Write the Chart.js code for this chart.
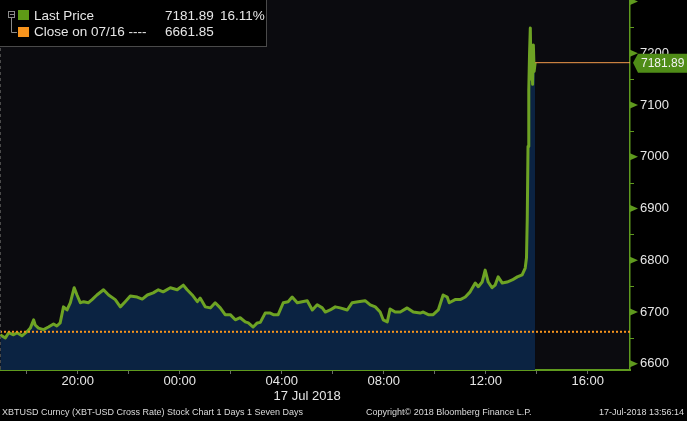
<!DOCTYPE html>
<html>
<head>
<meta charset="utf-8">
<script src="https://cdn.jsdelivr.net/npm/chart.js@4.4.1/dist/chart.umd.min.js"></script>
<style>
  html, body { margin: 0; padding: 0; background: #000; }
  canvas { display: block; }
</style>
</head>
<body>
<canvas id="priceChart" width="687" height="421"></canvas>
<script>
// horas relativas a 00:00 de 17/07/2018 (negativas = 16/07)
const hours = [
  -7.04, -6.84, -6.71, -6.52, -6.38, -6.19, -5.99, -5.86, -5.73, -5.67,
  -5.54, -5.34, -5.15, -4.95, -4.82, -4.69, -4.56, -4.42, -4.29, -4.14,
  -4.03, -3.90, -3.77, -3.58, -3.44, -3.25, -2.99, -2.79, -2.53, -2.33,
  -2.14, -1.94, -1.67, -1.47, -1.27, -1.04, -0.84, -0.65, -0.37, -0.10,
  0.14, 0.29, 0.49, 0.69, 0.80, 1.00, 1.20, 1.39, 1.59, 1.78,
  1.98, 2.18, 2.37, 2.57, 2.69, 2.88, 3.04, 3.16, 3.35, 3.55,
  3.67, 3.86, 4.06, 4.25, 4.41, 4.61, 4.80, 5.00, 5.20, 5.39,
  5.59, 5.71, 5.90, 6.10, 6.29, 6.57, 6.76, 7.00, 7.27, 7.47,
  7.67, 7.86, 7.98, 8.14, 8.25, 8.45, 8.65, 8.92, 9.16, 9.43,
  9.55, 9.75, 9.94, 10.14, 10.33, 10.49, 10.57, 10.80, 11.00, 11.20,
  11.39, 11.59, 11.71, 11.86, 11.98, 12.10, 12.25, 12.37, 12.49, 12.65,
  12.84, 13.04, 13.24, 13.43, 13.55, 13.60, 13.63, 13.66, 13.69, 13.72,
  13.75, 13.78, 13.81, 13.84, 13.87, 13.90, 13.94
];
const prices = [
  6656, 6650, 6660, 6656, 6660, 6654, 6662, 6669, 6685, 6675,
  6669, 6666, 6671, 6677, 6673, 6679, 6710, 6704, 6718, 6747,
  6733, 6718, 6720, 6718, 6724, 6733, 6743, 6733, 6724, 6710,
  6720, 6731, 6729, 6725, 6733, 6737, 6743, 6739, 6747, 6743,
  6752, 6743, 6733, 6720, 6727, 6710, 6708, 6718, 6708, 6695,
  6695, 6685, 6689, 6681, 6679, 6671, 6679, 6680, 6698, 6698,
  6695, 6695, 6718, 6720, 6729, 6718, 6720, 6722, 6704, 6714,
  6708, 6700, 6704, 6710, 6708, 6704, 6718, 6720, 6722, 6714,
  6710, 6700, 6685, 6681, 6706, 6700, 6700, 6708, 6700, 6698,
  6700, 6695, 6695, 6704, 6733, 6729, 6718, 6724, 6724, 6729,
  6739, 6756, 6749, 6758, 6781, 6758, 6747, 6752, 6768, 6756,
  6758, 6762, 6768, 6772, 6785, 6805, 6880, 7020, 7130, 7200,
  7249, 7150, 7185, 7140, 7216, 7165, 7181.89
];
const lastPrice = 7181.89;
const prevClose = 6661.85;
const pctChange = '16.11%';
const closeLabel = 'Close on 07/16 ----';
const dateLabel = '17 Jul 2018';
const dateLabelHour = 5;
const xTicks = [-6, -4, -2, 0, 2, 4, 6, 8, 10, 12, 14, 16];
const yTicks = [6600, 6650, 6700, 6750, 6800, 6850, 6900, 6950, 7000, 7050, 7100, 7150, 7200, 7250, 7300];
const footerLeft = 'XBTUSD Curncy (XBT-USD Cross Rate) Stock Chart 1 Days 1 Seven Days';
const footerMid = 'Copyright\u00a9 2018 Bloomberg Finance L.P.';
const footerRight = '17-Jul-2018 13:56:14';

const xMin = -7.05, xMax = 17.66;
const GREEN = '#6ea324';
const AXIS_GREEN = '#5f9a1e';
const ORANGE = '#f7941d';
const TEXT = '#e6e6e6';
const FONT = '"Liberation Sans", Arial, sans-serif';

document.addEventListener('DOMContentLoaded', () => {
  const ctx = document.getElementById('priceChart').getContext('2d');
  const lastHour = hours[hours.length - 1];

  // fundo, legenda, triângulos do eixo, etiqueta do último preço e rodapé
  const bloombergPlugin = {
    id: 'bloomberg',
    beforeDraw(chart) {
      const c = chart.ctx, a = chart.chartArea;
      c.save();
      c.fillStyle = '#000';
      c.fillRect(0, 0, chart.width, chart.height);
      c.fillStyle = '#0b0b0f';
      c.fillRect(a.left, a.top, a.right - a.left, a.bottom - a.top);
      c.restore();
    },
    afterDraw(chart) {
      const c = chart.ctx, a = chart.chartArea;
      const xs = chart.scales.x, ys = chart.scales.y;
      c.save();

      // borda esquerda tracejada
      c.strokeStyle = '#4a4a4a';
      c.setLineDash([3, 3]);
      c.beginPath();
      c.moveTo(a.left + 0.5, 48);
      c.lineTo(a.left + 0.5, a.bottom);
      c.stroke();
      c.setLineDash([]);

      // marcas do eixo y
      c.fillStyle = AXIS_GREEN;
      c.strokeStyle = AXIS_GREEN;
      yTicks.forEach(v => {
        const y = ys.getPixelForValue(v);
        if (v % 100 === 0) {
          c.beginPath();
          c.moveTo(a.right, y - 3.5);
          c.lineTo(a.right + 8, y);
          c.lineTo(a.right, y + 3.5);
          c.closePath();
          c.fill();
        } else {
          c.beginPath();
          c.moveTo(a.right, Math.round(y) + 0.5);
          c.lineTo(a.right + 4, Math.round(y) + 0.5);
          c.stroke();
        }
      });

      // etiqueta do último preço
      const ly = ys.getPixelForValue(lastPrice);
      c.fillStyle = '#4f8c17';
      c.beginPath();
      c.moveTo(a.right + 3, ly);
      c.lineTo(a.right + 8, ly - 9);
      c.lineTo(chart.width, ly - 9);
      c.lineTo(chart.width, ly + 10);
      c.lineTo(a.right + 8, ly + 10);
      c.closePath();
      c.fill();
      c.fillStyle = '#f2f2f2';
      c.font = '12px ' + FONT;
      c.textBaseline = 'middle';
      c.textAlign = 'left';
      c.fillText(lastPrice.toFixed(2), a.right + 11, ly + 1);

      // data abaixo do eixo x
      c.font = '13px ' + FONT;
      c.fillStyle = TEXT;
      c.textAlign = 'center';
      c.fillText(dateLabel, xs.getPixelForValue(dateLabelHour), 396);

      // rodapé
      c.font = '9px ' + FONT;
      c.fillStyle = '#dcdcdc';
      c.textAlign = 'left';
      c.fillText(footerLeft, 2, 413);
      c.fillText(footerMid, 366, 413);
      c.textAlign = 'right';
      c.fillText(footerRight, 684, 413);

      // legenda
      c.fillStyle = '#000';
      c.fillRect(0, 0, 267, 47);
      c.strokeStyle = '#4a4a4a';
      c.lineWidth = 1;
      c.strokeRect(-0.5, -0.5, 267, 47);
      c.strokeStyle = '#8a8a8a';
      c.strokeRect(8.5, 11.5, 6, 6);
      c.beginPath();
      c.moveTo(10, 14.5); c.lineTo(14, 14.5);
      c.moveTo(11.5, 18); c.lineTo(11.5, 32.5); c.lineTo(17, 32.5);
      c.stroke();
      c.fillStyle = '#5e9a16';
      c.fillRect(18, 10, 11, 10);
      c.fillStyle = ORANGE;
      c.fillRect(18, 27, 11, 10);
      c.fillStyle = TEXT;
      c.font = '13.5px ' + FONT;
      c.textAlign = 'left';
      c.fillText('Last Price', 34, 16);
      c.fillText(lastPrice.toFixed(2), 165, 16);
      c.fillText(pctChange, 220, 16);
      c.fillText(closeLabel, 34, 32);
      c.fillText(prevClose.toFixed(2), 165, 32);
      c.restore();
    }
  };

  const pad = n => String(n).padStart(2, '0');

  new Chart(ctx, {
    type: 'line',
    data: {
      datasets: [
        {
          label: 'Last Price',
          data: hours.map((h, i) => ({ x: h, y: prices[i] })),
          borderColor: GREEN,
          borderWidth: 3,
          borderJoinStyle: 'round',
          backgroundColor: '#0b2342',
          fill: 'start',
          pointRadius: 0,
          tension: 0,
          order: 2
        },
        {
          label: 'Close',
          data: [{ x: xMin, y: prevClose }, { x: xMax, y: prevClose }],
          borderColor: ORANGE,
          borderWidth: 2,
          borderDash: [2, 2],
          pointRadius: 0,
          fill: false,
          order: 0
        },
        {
          label: 'Last',
          data: [{ x: lastHour, y: lastPrice }, { x: xMax, y: lastPrice }],
          borderColor: '#f29a4c',
          borderWidth: 1,
          pointRadius: 0,
          fill: false,
          order: 1
        }
      ]
    },
    options: {
      responsive: false,
      animation: false,
      layout: { padding: 0 },
      plugins: { legend: { display: false }, tooltip: { enabled: false } },
      scales: {
        x: {
          type: 'linear',
          min: xMin,
          max: xMax,
          afterBuildTicks: s => { s.ticks = xTicks.map(v => ({ value: v })); },
          afterFit: s => { s.height = 51; s.paddingLeft = 0; s.paddingRight = 0; },
          ticks: {
            color: TEXT,
            font: { family: FONT, size: 13 },
            padding: 0,
            maxRotation: 0,
            autoSkip: false,
            callback: v => (v % 4 === 0 ? pad(((v % 24) + 24) % 24) + ':00' : '')
          },
          grid: { drawOnChartArea: false, color: '#6a6a6a', tickLength: 4 },
          border: { color: AXIS_GREEN, width: 2 }
        },
        y: {
          position: 'right',
          min: 6588,
          max: 7303,
          afterBuildTicks: s => { s.ticks = yTicks.map(v => ({ value: v })); },
          afterFit: s => { s.width = 57; s.paddingTop = 0; s.paddingBottom = 0; },
          ticks: {
            color: TEXT,
            font: { family: FONT, size: 13 },
            padding: 3,
            autoSkip: false,
            callback: v => (v % 100 === 0 && v < 7300 ? String(v) : '')
          },
          grid: { drawOnChartArea: false, color: 'rgba(0,0,0,0)', tickLength: 7 },
          border: { color: AXIS_GREEN, width: 1.5 }
        }
      }
    },
    plugins: [bloombergPlugin]
  });
});
</script>
</body>
</html>
